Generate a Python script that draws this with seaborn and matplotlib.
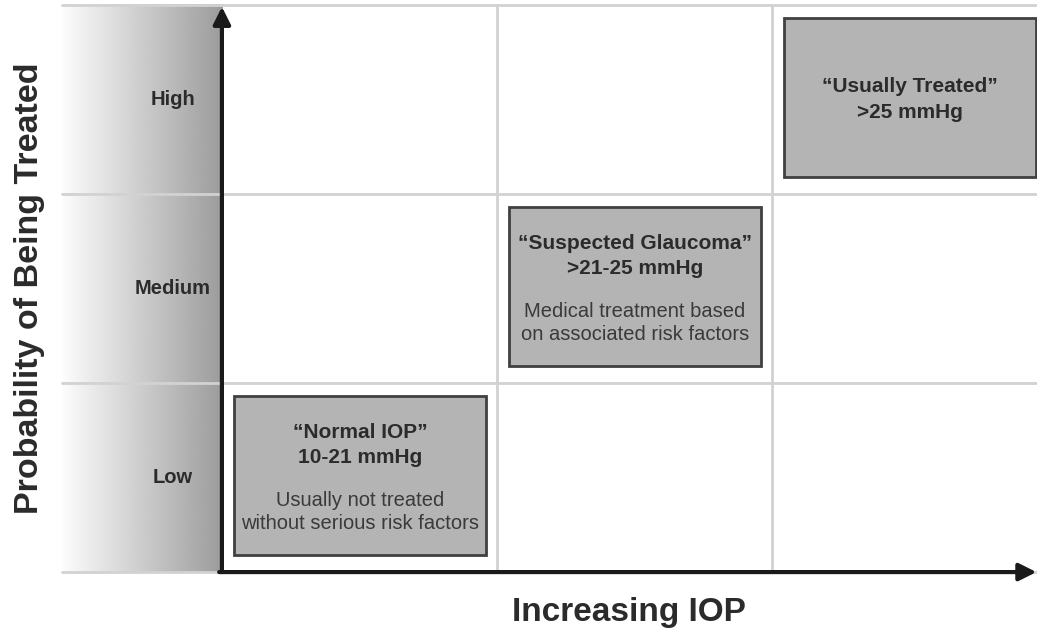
import matplotlib
matplotlib.use("Agg")
import matplotlib.pyplot as plt
import seaborn as sns
import numpy as np
from matplotlib.patches import Rectangle

# Categories of the grid
levels = ["Low", "Medium", "High"]
iop_cols = [0, 1, 2]
box_rows = [0, 1, 2]
box_titles = ["\u201cNormal IOP\u201d\n10-21 mmHg",
              "\u201cSuspected Glaucoma\u201d\n>21-25 mmHg",
              "\u201cUsually Treated\u201d\n>25 mmHg"]
box_notes = ["Usually not treated\nwithout serious risk factors",
             "Medical treatment based\non associated risk factors",
             ""]
x_label = "Increasing IOP"
y_label = "Probability of Being Treated"

sns.set_theme(style="white")
plt.rcParams['font.family'] = ['Liberation Sans', 'DejaVu Sans']

fig = plt.figure(figsize=(10.37, 6.39), dpi=100)
ax = fig.add_axes([0, 0, 1, 1])
ax.set_xlim(-0.807, 2.964)
ax.set_ylim(-0.354, 3.026)
ax.axis("off")

txt = "#2b2b2b"
grid_c = "#d2d2d2"

# gradient strip behind the level labels
grad = np.linspace(0.99, 0.61, 256).reshape(1, -1)
ax.imshow(grad, cmap="gray", vmin=0, vmax=1, aspect="auto",
          extent=(-0.582, 0, 0, 3), zorder=0)

# grid lines
for r in range(len(levels) + 1):
    ax.plot([-0.582, 2.964], [r, r], color=grid_c, lw=2, zorder=1)
for c in iop_cols[1:]:
    ax.plot([c, c], [0, 3], color=grid_c, lw=2, zorder=1)

# level labels
for r, lab in enumerate(levels):
    ax.text(-0.178, r + 0.5, lab, ha="center", va="center", fontsize=14.5,
            fontweight="bold", color=txt)

# boxes
for c, r, title, note in zip(iop_cols, box_rows, box_titles, box_notes):
    ax.add_patch(Rectangle((c + 0.044, r + 0.09), 0.917, 0.84,
                           facecolor="#b4b4b4", edgecolor="#404040",
                           lw=2, zorder=3))
    cx = c + 0.044 + 0.917 / 2
    if note:
        ax.text(cx, r + 0.672, title, ha="center", va="center", fontsize=15,
                fontweight="bold", color=txt, linespacing=1.45, zorder=4)
        ax.text(cx, r + 0.318, note, ha="center", va="center", fontsize=14.5,
                color="#3a3a3a", linespacing=1.3, zorder=4)
    else:
        ax.text(cx, r + 0.5, title, ha="center", va="center", fontsize=15,
                fontweight="bold", color=txt, linespacing=1.45, zorder=4)

# axis arrows
arrow = dict(arrowstyle="-|>", lw=3, color="#1a1a1a", mutation_scale=26,
             shrinkA=0, shrinkB=0)
ax.annotate("", xy=(0, 2.99), xytext=(0, 0), arrowprops=arrow, zorder=5)
ax.annotate("", xy=(2.962, 0), xytext=(-0.01, 0), arrowprops=arrow, zorder=5)

# axis titles
ax.text(1.48, -0.215, x_label, ha="center", va="center", fontsize=24,
        fontweight="bold", color=txt)
ax.text(-0.7, 1.5, y_label, ha="center", va="center", fontsize=24.5,
        fontweight="bold", color=txt, rotation=90)

fig.savefig("out.png", dpi=100)
